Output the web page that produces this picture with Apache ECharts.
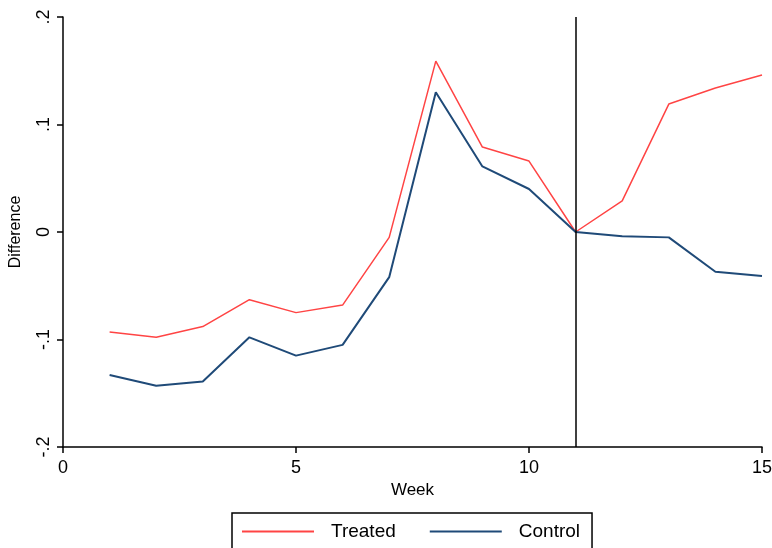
<!DOCTYPE html>
<html><head><meta charset="utf-8">
<script src="https://cdn.jsdelivr.net/npm/echarts@6/dist/echarts.min.js"></script>
<style>html,body{margin:0;padding:0;background:#fff}#c{width:772px;height:548px}</style>
</head><body><div id="c"></div>
<script>
const weeks = [1,2,3,4,5,6,7,8,9,10,11,12,13,14,15];
const treated = [-0.093,-0.098,-0.088,-0.063,-0.075,-0.068,-0.005,0.159,0.079,0.066,0,0.029,0.119,0.134,0.146];
const control = [-0.133,-0.143,-0.139,-0.098,-0.115,-0.105,-0.042,0.130,0.061,0.040,0,-0.004,-0.005,-0.037,-0.041];
const treatmentWeek = 11;
const yTicks = [-0.2,-0.1,0,0.1,0.2];

const fmt = v => {
  const r = Math.round(v*10)/10;
  if (r === 0) return '0';
  return (r<0?'-':'') + String(Math.abs(r)).replace(/^0/,'');
};
const font = 'Liberation Sans, Arial, sans-serif';
const chart = echarts.init(document.getElementById('c'));
chart.setOption({
  animation:false,
  backgroundColor:'#fff',
  grid:{left:63,right:10,top:17,bottom:101,containLabel:false,outerBoundsMode:'none'},
  xAxis:{type:'value',min:0,max:15,interval:5,
    name:'Week',nameLocation:'middle',nameGap:33,
    nameTextStyle:{fontFamily:font,fontSize:17,color:'#000'},
    axisLine:{onZero:false,lineStyle:{color:'#000',width:1.5}},
    axisTick:{length:6,lineStyle:{color:'#000',width:1.5}},
    axisLabel:{margin:12,fontFamily:font,fontSize:18,color:'#000'},
    splitLine:{show:false}},
  yAxis:{type:'value',min:yTicks[0],max:yTicks[yTicks.length-1],interval:0.1,
    name:'Difference',nameLocation:'middle',nameGap:39,
    nameTextStyle:{fontFamily:font,fontSize:16,color:'#000'},
    axisLine:{show:true,onZero:false,lineStyle:{color:'#000',width:1.5}},
    axisTick:{show:true,length:6,lineStyle:{color:'#000',width:1.5}},
    axisLabel:{rotate:90,margin:10,fontFamily:font,fontSize:18,color:'#000',formatter:fmt},
    splitLine:{show:false}},
  legend:{left:232,top:513,orient:'horizontal',
    padding:[9,12,12,10],itemGap:34,itemWidth:72,itemHeight:2,
    borderColor:'#000',borderWidth:1.5,borderRadius:0,
    textStyle:{fontFamily:font,fontSize:19,color:'#000',padding:[0,0,0,12]},
    data:[{name:'Treated',icon:'rect'},{name:'Control',icon:'rect'}]},
  series:[
    {name:'Treated',type:'line',data:weeks.map((w,i)=>[w,treated[i]]),
     showSymbol:false,symbol:'none',color:'#ff4444',lineStyle:{color:'#ff4444',width:1.5},
     markLine:{silent:true,symbol:'none',label:{show:false},
       lineStyle:{color:'#000',width:1.5,type:'solid'},data:[{xAxis:treatmentWeek}]}},
    {name:'Control',type:'line',data:weeks.map((w,i)=>[w,control[i]]),
     showSymbol:false,symbol:'none',color:'#1f4a78',lineStyle:{color:'#1f4a78',width:2}}
  ]
});
</script></body></html>
